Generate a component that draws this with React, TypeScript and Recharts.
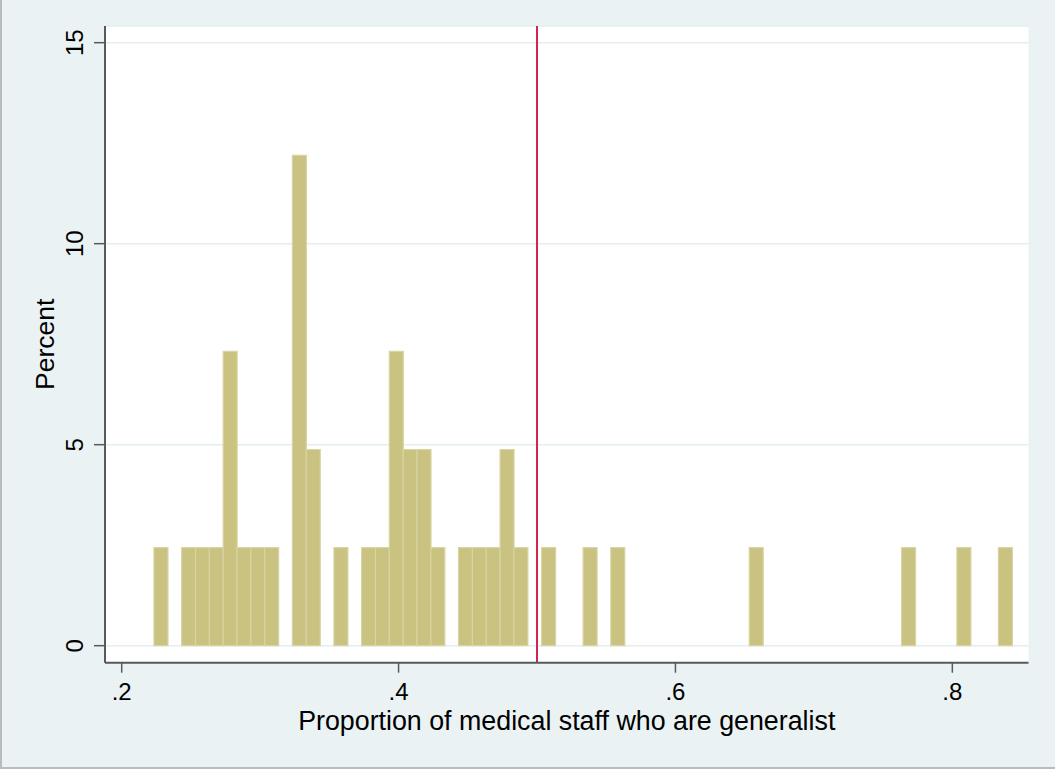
import { Bar, CartesianGrid, ComposedChart, Label, ReferenceLine, XAxis, YAxis } from 'recharts';

// histogram bins (width .01), midpoints of the non-empty bins
const binMid = [
  0.2283, 0.2483, 0.2583, 0.2683, 0.2783, 0.2883, 0.2983, 0.3083, 0.3283, 0.3383,
  0.3583, 0.3783, 0.3883, 0.3983, 0.4083, 0.4183, 0.4283, 0.4483, 0.4583, 0.4683,
  0.4783, 0.4883, 0.5083, 0.5383, 0.5583, 0.6583, 0.7683, 0.8083, 0.8383,
];
const percent = [
  2.44, 2.44, 2.44, 2.44, 7.32, 2.44, 2.44, 2.44, 12.2, 4.88,
  2.44, 2.44, 2.44, 7.32, 4.88, 4.88, 2.44, 2.44, 2.44, 2.44,
  4.88, 2.44, 2.44, 2.44, 2.44, 2.44, 2.44, 2.44, 2.44,
];
const xTicks = [0.2, 0.4, 0.6, 0.8];
const yTicks = [0, 5, 10, 15];
const cutoff = 0.5;

const FONT = '"Liberation Sans", Arial, Helvetica, sans-serif';
const AXIS = '#555a5c';

const data = binMid.map((x, i) => ({ x, pct: percent[i] }));

const fmtX = (v: number) => String(v).replace(/^0/, '');

function XTick({ x, y, payload }: any) {
  return (
    <text x={x} y={y + 25.5} textAnchor="middle" fontSize={24} fontFamily={FONT} fill="#000">
      {fmtX(payload.value)}
    </text>
  );
}

function YTick({ x, y, payload }: any) {
  const bx = x - 9;
  return (
    <text
      x={bx}
      y={y}
      textAnchor="middle"
      fontSize={24}
      fontFamily={FONT}
      fill="#000"
      transform={`rotate(-90, ${bx}, ${y})`}
    >
      {payload.value}
    </text>
  );
}

export default function App() {
  return (
    <div
      style={{
        position: 'absolute',
        left: 0,
        top: 0,
        width: 1055,
        height: 769,
        background: '#eaf2f3',
        boxSizing: 'border-box',
        borderLeft: '2px solid #b7bcbf',
        borderBottom: '2px solid #b7bcbf',
      }}
    >
      <div style={{ position: 'absolute', left: -2, top: 0 }}>
        <ComposedChart
          width={1055}
          height={769}
          data={data}
          barCategoryGap={0}
          margin={{ top: 26, right: 26.5, bottom: 26.3, left: 0 }}
        >
          <CartesianGrid vertical={false} fill="#ffffff" stroke="#e4eef0" strokeWidth={1.5} />
          <XAxis
            dataKey="x"
            type="number"
            domain={[0.18794, 0.85502]}
            allowDataOverflow
            ticks={xTicks}
            tick={<XTick />}
            tickSize={10}
            height={80}
            axisLine={{ stroke: AXIS, strokeWidth: 2 }}
            tickLine={{ stroke: AXIS, strokeWidth: 1.5 }}
          >
            <Label
              content={({ viewBox }: any) => (
                <text
                  x={viewBox.x + viewBox.width / 2}
                  y={viewBox.y + 67.5}
                  textAnchor="middle"
                  fontSize={26.8}
                  fontFamily={FONT}
                  fill="#000"
                >
                  Proportion of medical staff who are generalist
                </text>
              )}
            />
          </XAxis>
          <YAxis
            type="number"
            domain={[-0.423, 15.415]}
            allowDataOverflow
            ticks={yTicks}
            tick={<YTick />}
            tickSize={11}
            width={105}
            axisLine={{ stroke: AXIS, strokeWidth: 2 }}
            tickLine={{ stroke: AXIS, strokeWidth: 1.5 }}
          >
            <Label
              content={({ viewBox }: any) => {
                const cx = 54;
                const cy = viewBox.y + viewBox.height / 2;
                return (
                  <text
                    x={cx}
                    y={cy}
                    textAnchor="middle"
                    fontSize={26.5}
                    fontFamily={FONT}
                    fill="#000"
                    transform={`rotate(-90, ${cx}, ${cy})`}
                  >
                    Percent
                  </text>
                );
              }}
            />
          </YAxis>
          <Bar dataKey="pct" fill="#c9c280" stroke="#d9d4a4" strokeWidth={1.2} isAnimationActive={false} />
          <ReferenceLine x={cutoff} stroke="#d0254f" strokeWidth={2} />
        </ComposedChart>
      </div>
    </div>
  );
}
